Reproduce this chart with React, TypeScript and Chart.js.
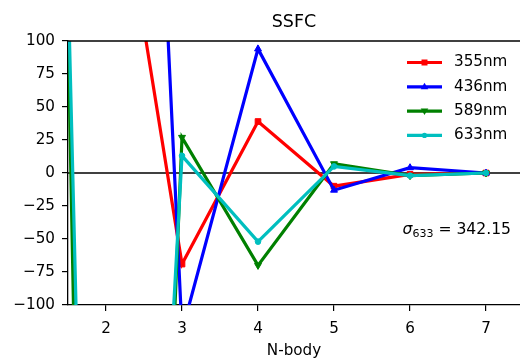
import React, { useEffect, useRef } from "react";
import { Chart, registerables } from "chart.js";

Chart.register(...registerables);

// N-body order and SSFC values per wavelength
const nBody = [1, 2, 3, 4, 5, 6, 7];
const ssfc355 = [-95, 288, -69, 39, -10, -1, 0];
const ssfc436 = [1800, 1090, -120, 94, -13, 4, 0];
const ssfc589 = [1573, -1352, 27, -70, 7, -2, 0];
const ssfc633 = [1322, -1028, 13, -52, 5, -2, 0];
const seriesLabels = ["355nm", "436nm", "589nm", "633nm"];
const xTickValues = [2, 3, 4, 5, 6, 7];
const yTickValues = [-100, -75, -50, -25, 0, 25, 50, 75, 100];
const sigmaValue = "342.15";
const sigmaSub = "633";
const chartTitle = "SSFC";
const xTitle = "N-body";

const FONT = "'DejaVu Sans', sans-serif";
const TEXT_SIZE = 15.2;
const colors = ["#ff0000", "#0000ff", "#008000", "#00bfbf"];
const markers = ["rect", "triangle", "triangleDown", "circle"];

function drawMarker(ctx: CanvasRenderingContext2D, kind: string, x: number, y: number, color: string) {
  ctx.save();
  ctx.fillStyle = color;
  ctx.beginPath();
  if (kind === "rect") {
    ctx.rect(x - 3, y - 3, 6, 6);
  } else if (kind === "triangle") {
    ctx.moveTo(x, y - 4);
    ctx.lineTo(x + 3.8, y + 2.5);
    ctx.lineTo(x - 3.8, y + 2.5);
    ctx.closePath();
  } else if (kind === "triangleDown") {
    ctx.moveTo(x, y + 4);
    ctx.lineTo(x + 3.8, y - 2.5);
    ctx.lineTo(x - 3.8, y - 2.5);
    ctx.closePath();
  } else {
    ctx.arc(x, y, 2.6, 0, Math.PI * 2);
  }
  ctx.fill();
  ctx.restore();
}

const decorations = {
  id: "decorations",
  beforeDatasetsDraw(chart: any) {
    const { ctx, chartArea, scales } = chart;
    const y0 = scales.y.getPixelForValue(0);
    ctx.save();
    ctx.strokeStyle = "#000";
    ctx.lineWidth = 1.3;
    ctx.beginPath();
    ctx.moveTo(chartArea.left, y0);
    ctx.lineTo(chartArea.right, y0);
    ctx.stroke();
    ctx.restore();
  },
  afterDraw(chart: any) {
    const { ctx, chartArea } = chart;
    ctx.save();
    // top frame line
    ctx.strokeStyle = "#000";
    ctx.lineWidth = 1.3;
    ctx.beginPath();
    ctx.moveTo(chartArea.left, chartArea.top);
    ctx.lineTo(chartArea.right, chartArea.top);
    ctx.stroke();

    // title
    ctx.fillStyle = "#000";
    ctx.font = `17.5px ${FONT}`;
    ctx.textAlign = "center";
    ctx.textBaseline = "middle";
    ctx.fillText(chartTitle, (chartArea.left + chartArea.right) / 2, 22);

    // legend
    const lx0 = 407;
    const lx1 = 442;
    seriesLabels.forEach((label, i) => {
      const y = 62.5 + i * 24.3;
      ctx.strokeStyle = colors[i];
      ctx.lineWidth = 3.2;
      ctx.beginPath();
      ctx.moveTo(lx0, y);
      ctx.lineTo(lx1, y);
      ctx.stroke();
      drawMarker(ctx, markers[i], (lx0 + lx1) / 2, y, colors[i]);
      ctx.fillStyle = "#000";
      ctx.font = `${TEXT_SIZE}px ${FONT}`;
      ctx.textAlign = "left";
      ctx.textBaseline = "middle";
      ctx.fillText(label, 454, y);
    });

    // sigma annotation
    const base = 234;
    ctx.textBaseline = "alphabetic";
    ctx.textAlign = "left";
    const sigFont = `italic 15.6px ${FONT}`;
    const subFont = `11px ${FONT}`;
    const restFont = `15.6px ${FONT}`;
    const rest = ` = ${sigmaValue}`;
    ctx.font = sigFont;
    const wSig = ctx.measureText("σ").width;
    ctx.font = subFont;
    const wSub = ctx.measureText(sigmaSub).width;
    ctx.font = restFont;
    const wRest = ctx.measureText(rest).width;
    let x = 511 - (wSig + wSub + wRest);
    ctx.fillStyle = "#000";
    ctx.font = sigFont;
    ctx.fillText("σ", x, base);
    x += wSig;
    ctx.font = subFont;
    ctx.fillText(sigmaSub, x, base + 3);
    x += wSub;
    ctx.font = restFont;
    ctx.fillText(rest, x, base);
    ctx.restore();
  },
};

const seriesValues = [ssfc355, ssfc436, ssfc589, ssfc633];

export default function App() {
  const canvasRef = useRef<HTMLCanvasElement | null>(null);

  useEffect(() => {
    const canvas = canvasRef.current;
    if (!canvas) return;
    const datasets = seriesValues.map((vals, i) => ({
      label: seriesLabels[i],
      data: nBody.map((n, k) => ({ x: n, y: vals[k] })),
      borderColor: colors[i],
      backgroundColor: colors[i],
      borderWidth: 3.2,
      pointStyle: markers[i] === "triangleDown" ? "triangle" : markers[i],
      pointRotation: markers[i] === "triangleDown" ? 180 : 0,
      pointRadius: markers[i] === "circle" ? 2.8 : 4,
      pointBorderWidth: 1,
      pointBackgroundColor: colors[i],
      pointBorderColor: colors[i],
      tension: 0,
      clip: 0,
      order: seriesValues.length - i,
    }));

    const chart = new Chart(canvas, {
      type: "line",
      data: { datasets },
      options: {
        responsive: false,
        animation: false,
        parsing: false,
        layout: { padding: { top: 41, left: 0, right: 0, bottom: 0 } },
        plugins: {
          legend: { display: false },
          title: { display: false },
          tooltip: { enabled: false },
        },
        scales: {
          x: {
            type: "linear",
            position: "bottom",
            min: 1.5,
            max: 7.447,
            afterBuildTicks: (s: any) => {
              s.ticks = xTickValues.map((v) => ({ value: v }));
            },
            afterFit: (s: any) => {
              s.height = 55;
              s.paddingLeft = 0;
              s.paddingRight = 0;
            },
            ticks: {
              font: { family: FONT, size: TEXT_SIZE },
              color: "#000",
              padding: 8.5,
              callback: (v: any) => String(v),
            },
            grid: {
              display: true,
              drawOnChartArea: false,
              drawTicks: true,
              tickLength: 6,
              color: "#000",
              lineWidth: 1.2,
            },
            border: { display: true, color: "#000", width: 1.3 },
            title: {
              display: true,
              text: xTitle,
              color: "#000",
              font: { family: FONT, size: TEXT_SIZE },
              padding: { top: 0, bottom: 0 },
            },
          },
          y: {
            type: "linear",
            min: -100,
            max: 100,
            afterBuildTicks: (s: any) => {
              s.ticks = yTickValues.map((v) => ({ value: v }));
            },
            afterFit: (s: any) => {
              s.width = 68;
              s.paddingTop = 0;
              s.paddingBottom = 0;
            },
            ticks: {
              font: { family: FONT, size: TEXT_SIZE },
              color: "#000",
              padding: 7,
              callback: (v: any) => (v < 0 ? "\u2212" + Math.abs(v) : String(v)),
            },
            grid: {
              display: true,
              drawOnChartArea: false,
              drawTicks: true,
              tickLength: 6,
              color: "#000",
              lineWidth: 1.2,
            },
            border: { display: true, color: "#000", width: 1.3 },
          },
        },
      },
      plugins: [decorations],
    });
    return () => chart.destroy();
  }, []);

  return (
    <div
      style={{
        position: "absolute",
        left: 0,
        top: 0,
        width: 520,
        height: 360,
        overflow: "hidden",
        background: "#fff",
      }}
    >
      <canvas ref={canvasRef} width={525} height={360} style={{ display: "block" }} />
    </div>
  );
}
